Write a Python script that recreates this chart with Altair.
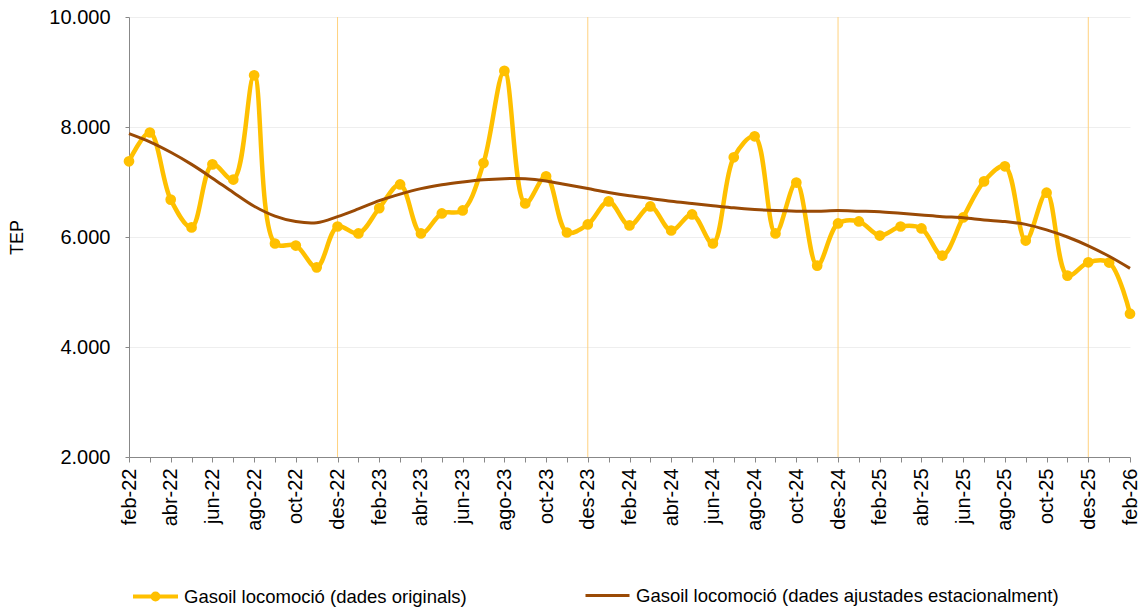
import json
import altair as alt
import pandas as pd

# ---- data ----
month_names = ["gen", "feb", "mar", "abr", "mai", "jun", "jul", "ago", "set", "oct", "nov", "des"]
labels = []
for k in range(49):
    m = (1 + k) % 12
    y = 22 + (1 + k) // 12
    labels.append(f"{month_names[m]}-{y}")

original = [7376, 7900, 6680, 6175, 7321, 7045, 8940, 5882, 5845, 5448,
            6191, 6064, 6525, 6955, 6064, 6428, 6483, 7345, 9020, 6610,
            7103, 6082, 6228, 6647, 6210, 6556, 6118, 6410, 5882, 7449,
            7831, 6064, 6990, 5480, 6246, 6283, 6027, 6191, 6155, 5663,
            6355, 7011, 7285, 5936, 6805, 5298, 5540, 5535, 4606]

trend = [7880, 7730, 7540, 7320, 7070, 6810, 6560, 6380, 6280, 6260,
         6370, 6510, 6660, 6780, 6880, 6950, 7000, 7040, 7060, 7060,
         7020, 6950, 6880, 6810, 6750, 6700, 6650, 6610, 6570, 6530,
         6500, 6480, 6470, 6470, 6480, 6470, 6460, 6430, 6400, 6370,
         6350, 6310, 6280, 6230, 6130, 6000, 5840, 5650, 5430]

name_orig = "Gasoil locomoció (dades originals)"
name_trend = "Gasoil locomoció (dades ajustades estacionalment)"

GOLD = "#FFC000"
BROWN = "#9A4A05"
FONT = "Liberation Sans"
FS = 20
TFS = 18

df = pd.DataFrame({"i": list(range(49)), "label": labels,
                   "orig": original, "trend": trend,
                   "s_orig": [name_orig] * 49, "s_trend": [name_trend] * 49})
dec = pd.DataFrame({"i": [k for k, l in enumerate(labels) if l.startswith("des")]})

lab_js = json.dumps(labels)

x_axis = alt.Axis(values=list(range(49)),
                  labelExpr=f"datum.value % 2 == 0 ? {lab_js}[datum.value] : ''",
                  labelAngle=270, grid=False, title=None, labelOverlap=False,
                  labelFont=FONT, labelFontSize=FS, labelColor="#000000",
                  labelPadding=6, tickSize=5, tickColor="#888888",
                  domainColor="#888888", labelBound=False, labelFlush=False)

x_enc = alt.X("i:Q", scale=alt.Scale(domain=[0, 48], nice=False, zero=False),
              axis=x_axis, title=None)

y_scale = alt.Scale(domain=[2000, 10000], nice=False, zero=False)

y_axis = alt.Axis(values=[2000, 4000, 6000, 8000, 10000],
                  labelExpr="replace(format(datum.value, ','), ',', '.')",
                  grid=True, title="TEP", gridColor="#eeeeee",
                  labelFont=FONT, labelFontSize=FS, labelColor="#000000",
                  labelPadding=15, tickSize=4, tickColor="#888888",
                  domainColor="#888888", titleFont=FONT, titleFontSize=TFS,
                  titleFontWeight="normal", titleColor="#000000", titlePadding=22)

rules = alt.Chart(dec).mark_rule(color="#FFD27F", strokeWidth=1).encode(x=x_enc)

base = alt.Chart(df)

line_orig = base.mark_line(interpolate="catmull-rom", strokeWidth=4.5).encode(
    x=x_enc,
    y=alt.Y("orig:Q", scale=y_scale, axis=y_axis),
    color=alt.Color("s_orig:N",
                    scale=alt.Scale(domain=[name_orig], range=[GOLD]),
                    legend=alt.Legend(orient="none", legendX=2, legendY=555,
                                      title=None, padding=0,
                                      symbolType="M-1,0H1M-0.13,0A0.13,0.13,0,1,1,0.13,0A0.13,0.13,0,1,1,-0.13,0",
                                      symbolSize=2025, symbolStrokeWidth=4,
                                      symbolFillColor=GOLD, symbolStrokeColor=GOLD,
                                      labelFont=FONT, labelFontSize=18.5,
                                      labelColor="#000000", labelOffset=4,
                                      labelLimit=600)),
)

pts = base.mark_circle(size=115, opacity=1, color=GOLD).encode(
    x=x_enc, y=alt.Y("orig:Q", scale=y_scale, axis=y_axis))

line_trend = base.mark_line(interpolate="catmull-rom", strokeWidth=3).encode(
    x=x_enc,
    y=alt.Y("trend:Q", scale=y_scale, axis=y_axis),
    stroke=alt.Stroke("s_trend:N",
                      scale=alt.Scale(domain=[name_trend], range=[BROWN]),
                      legend=alt.Legend(orient="none", legendX=455, legendY=555,
                                        title=None, padding=0,
                                        symbolType="stroke", symbolSize=1936,
                                        symbolStrokeWidth=3, symbolStrokeColor=BROWN,
                                        labelFont=FONT, labelFontSize=18.5,
                                        labelColor="#000000", labelOffset=5,
                                        labelLimit=700)),
)

chart = alt.layer(rules, line_orig, pts, line_trend).resolve_scale(
    color="independent", stroke="independent"
).properties(
    width=1001, height=440,
    autosize=alt.AutoSizeParams(type="none"),
    padding={"left": 121, "top": 9, "right": 9, "bottom": 152},
    background="#ffffff",
).configure_view(stroke=None).configure_axis(
    labelFont=FONT, labelFontSize=FS, titleFont=FONT, titleFontSize=TFS,
    titleFontWeight="normal",
)

chart.save("out.html", embed_options={"renderer": "svg", "actions": False})
